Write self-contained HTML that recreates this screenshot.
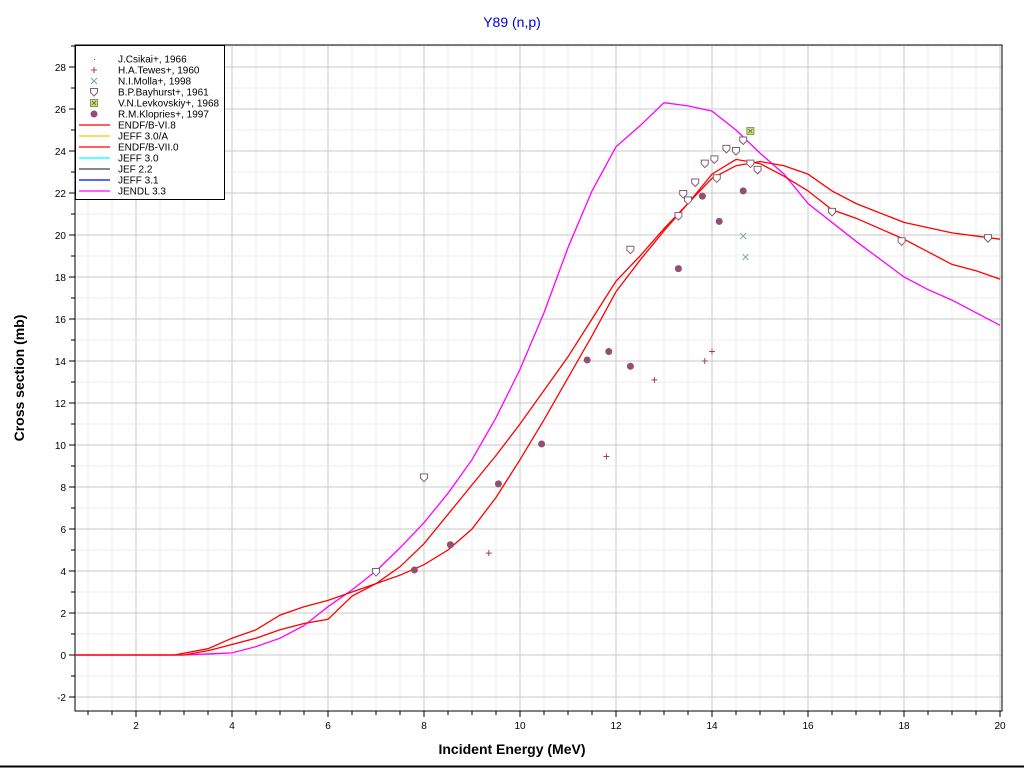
<!DOCTYPE html>
<html><head><meta charset="utf-8"><style>
body{margin:0;background:#fff;width:1024px;height:768px;overflow:hidden;font-family:"Liberation Sans",sans-serif}
</style></head><body>
<svg id="c" width="1024" height="768" xmlns="http://www.w3.org/2000/svg" font-family="Liberation Sans, sans-serif">
<rect x="0" y="0" width="1024" height="768" fill="#fff"/>
<line x1="0" y1="766.5" x2="1024" y2="766.5" stroke="#000" stroke-width="2"/>
<text x="512" y="27" text-anchor="middle" font-size="14" fill="#0000cc">Y89 (n,p)</text>
<text x="512" y="754" text-anchor="middle" font-size="14" font-weight="bold">Incident Energy (MeV)</text>
<text x="24" y="378" text-anchor="middle" font-size="14" font-weight="bold" transform="rotate(-90 24 378)">Cross section (mb)</text>
<g id="grid"></g><g id="axes"></g><g id="series"></g><g id="pts"></g><g id="legend"></g>
</svg>
<script>
const xTicks=[2,4,6,8,10,12,14,16,18,20];
const yTicks=[-2,0,2,4,6,8,10,12,14,16,18,20,22,24,26,28];
const endfE=[0.73,2.8,3.5,4,4.5,5,5.5,6,6.5,7,7.5,8,8.5,9,9.5,10,10.5,11,11.5,12,12.5,13,13.5,14,14.5,15,15.5,16,16.5,17,18,19,20];
const endfV=[0,0,0.3,0.8,1.2,1.9,2.3,2.6,3.0,3.4,3.8,4.3,5.0,6.0,7.5,9.3,11.2,13.2,15.2,17.3,18.8,20.2,21.5,22.7,23.3,23.5,23.3,22.9,22.1,21.5,20.6,20.1,19.8];
const endf7E=[0.73,3,3.5,4,4.5,5,5.5,6,6.5,7,7.5,8,8.5,9,9.5,10,10.5,11,11.5,12,12.5,13,13.5,14,14.5,15,15.5,16,16.5,17,18,18.5,19,19.5,20];
const endf7V=[0,0,0.2,0.5,0.8,1.2,1.5,1.7,2.8,3.4,4.2,5.3,6.7,8.1,9.5,11,12.6,14.2,16,17.8,19,20.3,21.5,22.9,23.6,23.4,22.8,22.1,21.2,20.8,19.8,19.2,18.6,18.3,17.9];
const jendlE=[0.73,3,3.5,4,4.5,5,5.5,6,6.5,7,7.5,8,8.5,9,9.5,10,10.5,11,11.5,12,12.5,13,13.5,14,14.5,15,15.5,16,17,18,18.5,19,20];
const jendlV=[0,0,0.05,0.1,0.4,0.8,1.4,2.3,3.1,4,5.1,6.3,7.7,9.3,11.3,13.6,16.3,19.4,22.1,24.2,25.2,26.3,26.15,25.9,25.0,23.9,22.9,21.5,19.7,18,17.4,16.9,15.7];
const tewesE=[9.35,11.8,12.8,13.85,14.0], tewesV=[4.85,9.45,13.1,14.0,14.45];
const mollaE=[14.65,14.7], mollaV=[19.95,18.95];
const bayE=[7.0,8.0,12.3,13.3,13.4,13.5,13.65,13.85,14.05,14.1,14.3,14.5,14.65,14.8,14.95,16.5,17.95,19.75];
const bayV=[3.95,8.45,19.3,20.9,21.95,21.65,22.5,23.4,23.6,22.7,24.1,24.0,24.5,23.4,23.1,21.1,19.7,19.85];
const levE=[14.8], levV=[24.95];
const kloE=[7.8,8.55,9.55,10.45,11.4,11.85,12.3,13.3,13.8,14.15,14.65];
const kloV=[4.05,5.25,8.15,10.05,14.05,14.45,13.75,18.4,21.85,20.65,22.1];

const NS="http://www.w3.org/2000/svg";
const X=e=>136+(e-2)*48, Y=v=>655-v*21;
const L=75,R=1002,T=45,B=711;
function mk(t,a,p){const el=document.createElementNS(NS,t);for(const k in a)el.setAttribute(k,a[k]);p.appendChild(el);return el;}
const g=document.getElementById('grid'),ax=document.getElementById('axes');
for(let e=1;e<=20;e+=0.5){const x=X(e);if(x<L||x>R)continue;const maj=e%2===0;
 const ln=mk('line',{x1:x,y1:T,x2:x,y2:B,stroke:maj?'#c8c8c8':'#ececec'},g);
 
 mk('line',{x1:x,y1:B,x2:x,y2:B+(maj?6:4),stroke:'#000'},ax);}
for(let v=-2;v<=29;v+=1){const y=Y(v);if(y<T||y>B)continue;const maj=v%2===0;
 const ln=mk('line',{x1:L,y1:y,x2:R,y2:y,stroke:maj?'#c8c8c8':'#ececec'},g);
 
 mk('line',{x1:L-(maj?6:4),y1:y,x2:L,y2:y,stroke:'#000'},ax);}
mk('rect',{x:L,y:T,width:R-L,height:B-T,fill:'none',stroke:'#000'},ax);
xTicks.forEach(t=>{const tx=mk('text',{x:X(t),y:B+18,'text-anchor':'middle','font-size':10},ax);tx.textContent=t;
 });
yTicks.forEach(t=>{const tx=mk('text',{x:L-9,y:Y(t)+4,'text-anchor':'end','font-size':10},ax);tx.textContent=t;
 });
const s=document.getElementById('series');
function line(E,V,c,name){const p=mk('polyline',{points:E.map((e,i)=>X(e)+','+Y(V[i])).join(' '),fill:'none',stroke:c,'stroke-width':1.3},s);
 }
line(jendlE,jendlV,'#ff00ff','jendl-3.3-line');
line(endfE,endfV,'#ff0000','endf-b-vi.8-line');
line(endf7E,endf7V,'#ff0000','endf-b-vii.0-line');
const pg=document.getElementById('pts');
function plus(x,y,p){mk('path',{d:`M${x-3},${y}h6M${x},${y-3}v6`,stroke:'#a04060','stroke-width':1},p);}
function cross(x,y,p){mk('path',{d:`M${x-3},${y-3}l6,6M${x-3},${y+3}l6,-6`,stroke:'#70a8a8','stroke-width':1},p);}
function bay(x,y,p){mk('path',{d:`M${x-3.5},${y-3.5}h7v4l-3.5,3.5l-3.5,-3.5z`,fill:'#fff',stroke:'#806070','stroke-width':1},p);}
function lev(x,y,p){mk('rect',{x:x-3.5,y:y-3.5,width:7,height:7,fill:'#d0e090',stroke:'#80a040'},p);mk('path',{d:`M${x-2},${y-2}l4,4M${x-2},${y+2}l4,-4`,stroke:'#608030'},p);}
function klo(x,y,p){mk('circle',{cx:x,cy:y,r:3.5,fill:'#905070'},p);}
function pts(E,V,f,name){E.forEach((e,i)=>{const gg=mk('g',{},pg);f(X(e),Y(V[i]),gg);});}
pts(tewesE,tewesV,plus,'tewes-point');pts(mollaE,mollaV,cross,'molla-point');pts(bayE,bayV,bay,'bayhurst-point');
pts(levE,levV,lev,'levkovskiy-point');pts(kloE,kloV,klo,'klopries-point');
const lg=document.getElementById('legend');
mk('rect',{x:75.5,y:45.5,width:149,height:154,fill:'#fff',stroke:'#000'},lg);
const items=[['J.Csikai+, 1966','dot'],['H.A.Tewes+, 1960','plus'],['N.I.Molla+, 1998','cross'],['B.P.Bayhurst+, 1961','bay'],['V.N.Levkovskiy+, 1968','lev'],['R.M.Klopries+, 1997','klo'],
['ENDF/B-VI.8','#ff0000'],['JEFF 3.0/A','#ffc000'],['ENDF/B-VII.0','#ff0000'],['JEFF 3.0','#00ffff'],['JEF 2.2','#404040'],['JEFF 3.1','#0000ff'],['JENDL 3.3','#ff00ff']];
items.forEach((it,i)=>{const y=59+i*11;const gg=mk('g',{},lg);
 
 const k=it[1];
 if(k==='dot')mk('rect',{x:94,y:y,width:1,height:1,fill:'#a04060'},gg);
 else if(k==='plus')plus(94,y,gg);else if(k==='cross')cross(94,y,gg);else if(k==='bay')bay(94,y,gg);
 else if(k==='lev')lev(94,y,gg);else if(k==='klo')klo(94,y,gg);
 else mk('line',{x1:79,y1:y,x2:110,y2:y,stroke:k,'stroke-width':1.3},gg);
 const t=mk('text',{x:118,y:y+3.5,'font-size':10},gg);t.textContent=it[0];});
</script>
</body></html>
